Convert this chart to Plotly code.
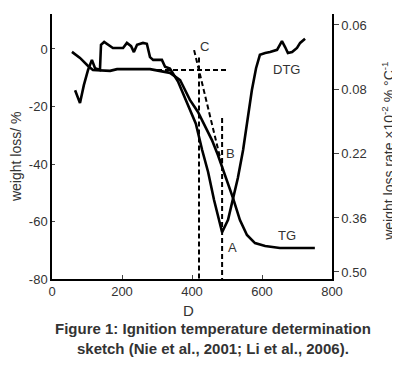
import plotly.graph_objects as go

# ---- data ----
tg_temp = [57, 80, 103, 117, 166, 186, 280, 309, 337, 366, 394, 417, 437, 457, 474,
           494, 517, 537, 557, 580, 609, 651, 751]
tg_loss = [-1.0, -3.1, -5.9, -7.3, -7.6, -7.0, -7.0, -7.6, -8.3, -10.8, -17.7, -21.9,
           -27.1, -31.7, -36.9, -43.8, -51.8, -59.5, -64.7, -67.5, -68.5, -69.2, -69.2]

dtg_temp = [66, 80, 91, 103, 114, 123, 137, 140, 149, 160, 174, 203, 214, 226, 234,
            243, 260, 271, 280, 289, 314, 323, 337, 360, 377, 394, 411, 429, 446, 463,
            486, 503, 517, 531, 546, 560, 571, 583, 594, 609, 623, 643, 651, 657, 666,
            674, 686, 700, 709, 723]
dtg_rate = [0.082, 0.110, 0.071, 0.038, 0.016, 0.034, 0.038, -0.017, -0.023, -0.017,
            -0.010, -0.010, -0.021, -0.014, -0.001, -0.017, -0.021, -0.019, 0.010,
            0.016, 0.016, 0.031, 0.035, 0.063, 0.094, 0.122, 0.155, 0.212, 0.260,
            0.321, 0.391, 0.364, 0.321, 0.273, 0.212, 0.142, 0.082, 0.034, 0.005,
            0.001, -0.001, -0.006, -0.017, -0.025, -0.012, 0.001, -0.001, -0.010,
            -0.021, -0.030]

# construction lines (temperature, weight loss)
hline_temp = [300, 500]
hline_loss = [-7.3, -7.3]
tangent_temp = [406, 486]
tangent_loss = [-0.4, -40.7]
ign_temp = [420, 420]
ign_loss = [-3.0, -80]
peak_temp = [486, 486]
peak_loss = [-24.0, -80]

x_ticks = [0, 200, 400, 600, 800]
y_ticks = [-80, -60, -40, -20, 0]
y_ticktext = ["-80", "-60", "-40", "-20", "0"]
y2_ticks = [-0.06, 0.08, 0.22, 0.36, 0.4775]
y2_ticktext = ["0.06", "0.08", "0.22", "0.36", "0.50"]

FONT = "Liberation Sans, Arial, sans-serif"
TXT = "#333333"

fig = go.Figure()

dash = "5px,3px"
for xs, ys in [(hline_temp, hline_loss), (tangent_temp, tangent_loss),
               (ign_temp, ign_loss), (peak_temp, peak_loss)]:
    fig.add_trace(go.Scatter(x=xs, y=ys, mode="lines",
                             line=dict(color="black", width=2, dash=dash),
                             showlegend=False, hoverinfo="skip"))

fig.add_trace(go.Scatter(x=tg_temp, y=tg_loss, mode="lines", name="TG",
                         line=dict(color="black", width=2.6), showlegend=False))
fig.add_trace(go.Scatter(x=dtg_temp, y=dtg_rate, mode="lines", name="DTG", yaxis="y2",
                         line=dict(color="black", width=2.6), showlegend=False))

ann = []
for txt, x, y in [("C", 437, 1.0), ("DTG", 671, -7.0), ("B", 509, -36.2),
                  ("A", 517, -68.9), ("TG", 671, -64.7)]:
    ann.append(dict(text=txt, x=x, y=y, xref="x", yref="y", showarrow=False,
                    xanchor="center", yanchor="middle",
                    font=dict(family=FONT, size=13, color=TXT)))

ann += [
    dict(text="weight loss/ %", x=-0.1286, y=0.46, xref="paper", yref="paper",
         xanchor="center", yanchor="middle",
         textangle=-90, showarrow=False, font=dict(family=FONT, size=14, color=TXT)),
    dict(text="weight loss rate ×10<sup>-2</sup> % °C<sup>-1</sup>", x=1.2, y=0.48,
         xref="paper", yref="paper", textangle=-90, showarrow=False,
         xanchor="center", yanchor="middle",
         font=dict(family=FONT, size=14, color=TXT)),
    dict(text="D", x=0.489, y=-0.117, xref="paper", yref="paper", showarrow=False,
         xanchor="center", yanchor="middle",
         font=dict(family=FONT, size=15, color=TXT)),
    dict(text="<b>Figure 1: Ignition temperature determination</b>", x=0.575, y=-0.185,
         xref="paper", yref="paper", showarrow=False,
         xanchor="center", yanchor="middle",
         font=dict(family=FONT, size=15, color=TXT)),
    dict(text="<b>sketch (Nie et al., 2001; Li et al., 2006).</b>", x=0.575, y=-0.264,
         xref="paper", yref="paper", showarrow=False,
         xanchor="center", yanchor="middle",
         font=dict(family=FONT, size=15, color=TXT)),
]

# the page body has an 8px margin, so the figure is shifted by 8px
fig.update_layout(
    width=392, height=352,
    margin=dict(l=44, r=68, t=6, b=81),
    paper_bgcolor="white", plot_bgcolor="white",
    showlegend=False,
    annotations=ann,
    xaxis=dict(range=[0, 800], tickvals=x_ticks, ticks="inside", ticklen=4,
               showline=True, linecolor="black", linewidth=1.5, showgrid=False,
               zeroline=False, tickfont=dict(family=FONT, size=13, color=TXT)),
    yaxis=dict(range=[-80, 12.17], tickvals=y_ticks, ticktext=y_ticktext,
               ticks="inside", ticklen=3, showline=True, linecolor="black",
               linewidth=1.5, showgrid=False, zeroline=False,
               tickfont=dict(family=FONT, size=13, color=TXT)),
    yaxis2=dict(overlaying="y", side="right", range=[0.4928, -0.0839],
                tickvals=y2_ticks, ticktext=y2_ticktext, ticks="outside", ticklen=5,
                showline=True, linecolor="black", linewidth=1.5, showgrid=False,
                zeroline=False, tickfont=dict(family=FONT, size=13, color=TXT)),
)

fig.write_html("out.html")
